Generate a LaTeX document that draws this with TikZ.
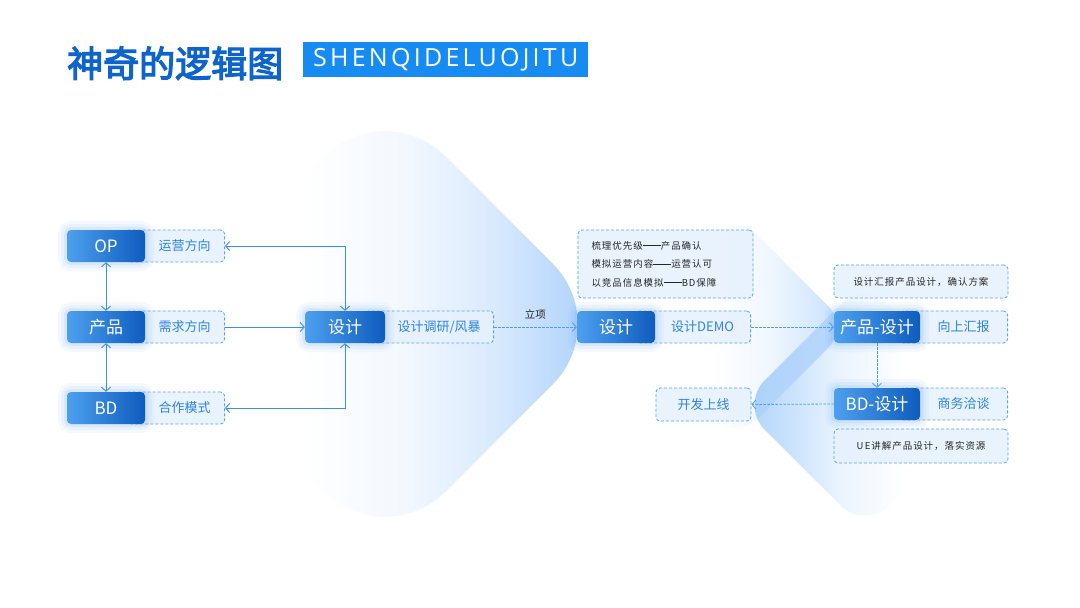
\documentclass[tikz,border=0pt]{standalone}
\usepackage{fontspec}
\usetikzlibrary{arrows.meta}
\newfontfamily\cjk{Noto Sans CJK SC}
\newfontfamily\cjktitle[FakeBold=3.5]{Noto Sans CJK SC}
\newfontfamily\cjksmall[LetterSpace=10]{Noto Sans CJK SC}
\newfontfamily\tagfont[LetterSpace=13]{Open Sans}
\newcommand\myddash{\rule[0.33em]{1.9em}{0.07em}}
\definecolor{nodeL}{RGB}{77,160,238}
\definecolor{nodeR}{RGB}{14,92,190}
\definecolor{lbl}{RGB}{45,132,228}
\definecolor{dashc}{RGB}{90,160,240}
\definecolor{boxfill}{RGB}{230,241,253}
\definecolor{wirec}{RGB}{60,142,232}
\definecolor{dwirec}{RGB}{75,155,240}
\definecolor{glow}{RGB}{100,165,240}
\definecolor{bgblue}{RGB}{160,202,250}
\definecolor{bgB}{RGB}{190,220,252}
\definecolor{bgC}{RGB}{172,210,250}
\definecolor{titleblue}{RGB}{14,100,205}
\definecolor{tagblue}{RGB}{22,140,243}
\pgfdeclarehorizontalshading{fadeA}{100bp}{color(0bp)=(white); color(25bp)=(white); color(41bp)=(white); color(52bp)=(bgblue!13); color(62bp)=(bgblue!40); color(70bp)=(bgblue!75); color(75bp)=(bgblue); color(100bp)=(bgblue)}
\pgfdeclarehorizontalshading{fadeB}{100bp}{color(0bp)=(white); color(25bp)=(white); color(45bp)=(white); color(58bp)=(bgB!25); color(68bp)=(bgB!65); color(75bp)=(bgB); color(100bp)=(bgB)}
\pgfdeclarehorizontalshading{fadeC}{100bp}{color(0bp)=(bgC); color(25bp)=(bgC); color(35bp)=(bgC!65); color(45bp)=(bgC!25); color(58bp)=(white); color(100bp)=(white)}
\tikzset{
  bluenode/.style={rounded corners=4pt, left color=nodeL, right color=nodeR, text=white,
    font=\cjk\fontsize{17}{20}\selectfont, minimum height=32, inner sep=0pt,
    preaction={draw=glow, draw opacity=0.06, line width=18pt},
    preaction={draw=glow, draw opacity=0.08, line width=12pt},
    preaction={draw=glow, draw opacity=0.12, line width=6pt}},
  lblbox/.style={rounded corners=4pt, draw=dashc, dash pattern=on 3pt off 2pt, line width=0.8pt,
    fill=boxfill, fill opacity=0.85, text opacity=1, text=lbl,
    font=\cjk\fontsize{13}{15}\selectfont, minimum height=32, inner sep=0pt},
  notebox/.style={lblbox, text=black!85, font=\cjksmall\fontsize{9.5}{18.5}\selectfont},
  wire/.style={draw=wirec, line width=0.9pt},
  dwire/.style={draw=dwirec, line width=0.8pt, dash pattern=on 2.5pt off 1.5pt},
}
\begin{document}
\begin{tikzpicture}[x=1pt,y=-1pt,>={Straight Barb[length=4pt,width=9pt]}]
\useasboundingbox (0,0) rectangle (1080,608);
\fill[white] (0,0) rectangle (1080,608);
% big diamond background
\begin{scope}
\clip[rounded corners=85pt] (385,96) -- (613,324) -- (385,552) -- (157,324) -- cycle;
\shade[shading=fadeA] (157,96) rectangle (613,552);
\end{scope}
% upper right diamond (B)
\begin{scope}
\clip[rounded corners=30pt] (735,213) -- (849,327) -- (735,441) -- (621,327) -- cycle;
\shade[shading=fadeB] (621,213) rectangle (849,441);
\end{scope}
% lower right diamond (C), multiplied over B
\begin{scope}[blend mode=multiply]
\clip[rounded corners=35pt] (740,405) -- (865,280) -- (990,405) -- (865,530) -- cycle;
\shade[shading=fadeC] (740,280) rectangle (990,530);
\end{scope}
% title
\node[anchor=base west, inner sep=0, text=titleblue, font=\cjktitle\fontsize{36}{40}\selectfont] (title) at (67,77) {神奇的逻辑图};
\node[fill=tagblue, minimum width=285, minimum height=35, inner sep=0, anchor=north west, text=white, font=\tagfont\fontsize{25}{28}\selectfont] (tag) at (303,42) {SHENQIDELUOJITU};
% label boxes
\node[lblbox, minimum width=100, anchor=east] (oplbl) at (225,246) {\hspace*{20pt}运营方向};
\node[lblbox, minimum width=100, anchor=east] (pdlbl) at (225,327) {\hspace*{20pt}需求方向};
\node[lblbox, minimum width=100, anchor=east] (bdlbl) at (225,408) {\hspace*{20pt}合作模式};
\node[lblbox, minimum width=129, anchor=east] (d1lbl) at (494,327) {\hspace*{20pt}设计调研/风暴};
\node[lblbox, minimum width=116, anchor=east] (d2lbl) at (751,327) {\hspace*{20pt}设计DEMO};
\node[lblbox, minimum width=108, anchor=east] (pd2lbl) at (1008,327) {\hspace*{20pt}向上汇报};
\node[lblbox, minimum width=108, anchor=east] (bd2lbl) at (1008,404) {\hspace*{20pt}商务洽谈};
\node[lblbox, minimum width=95, minimum height=33] (kf) at (703.5,404.5) {开发上线};
% notes
\node[notebox, minimum width=175, minimum height=68, text width=148, inner xsep=13.5, align=left] (n1) at (665.5,264) {梳理优先级\myddash 产品确认\\模拟运营内容\myddash 运营认可\\以竞品信息模拟\myddash BD保障};
\node[notebox, minimum width=174, minimum height=33] (n2) at (921,281.5) {设计汇报产品设计，确认方案};
\node[notebox, minimum width=174, minimum height=34] (n3) at (921,446) {U\,E讲解产品设计，落实资源};
% blue nodes
\node[bluenode, minimum width=78] (op) at (106,246) {OP};
\node[bluenode, minimum width=78] (pd) at (106,327) {产品};
\node[bluenode, minimum width=78] (bd) at (106,408) {BD};
\node[bluenode, minimum width=80] (d1) at (345,327) {设计};
\node[bluenode, minimum width=78] (d2) at (616,327) {设计};
\node[bluenode, minimum width=86] (pd2) at (877,327) {产品-设计};
\node[bluenode, minimum width=86] (bd2) at (877,404) {BD-设计};
% connectors
\draw[wire,<->] (op) -- (pd);
\draw[wire,<->] (pd) -- (bd);
\draw[wire,<->] (oplbl.east) -| (d1.north);
\draw[wire,->] (pdlbl.east) -- (d1.west);
\draw[wire,<->] (bdlbl.east) -| (d1.south);
\draw[dwire,->] (d1lbl.east) -- (d2.west) node[midway, above=4pt, text=black!85, font=\cjk\fontsize{10.5}{12}\selectfont] (lx) {立项};
\draw[dwire,->] (d2lbl.east) -- (pd2.west);
\draw[dwire,->] (pd2.south) -- (bd2.north);
\draw[dwire,->] (bd2.west) -- (kf.east);
\end{tikzpicture}
\end{document}
